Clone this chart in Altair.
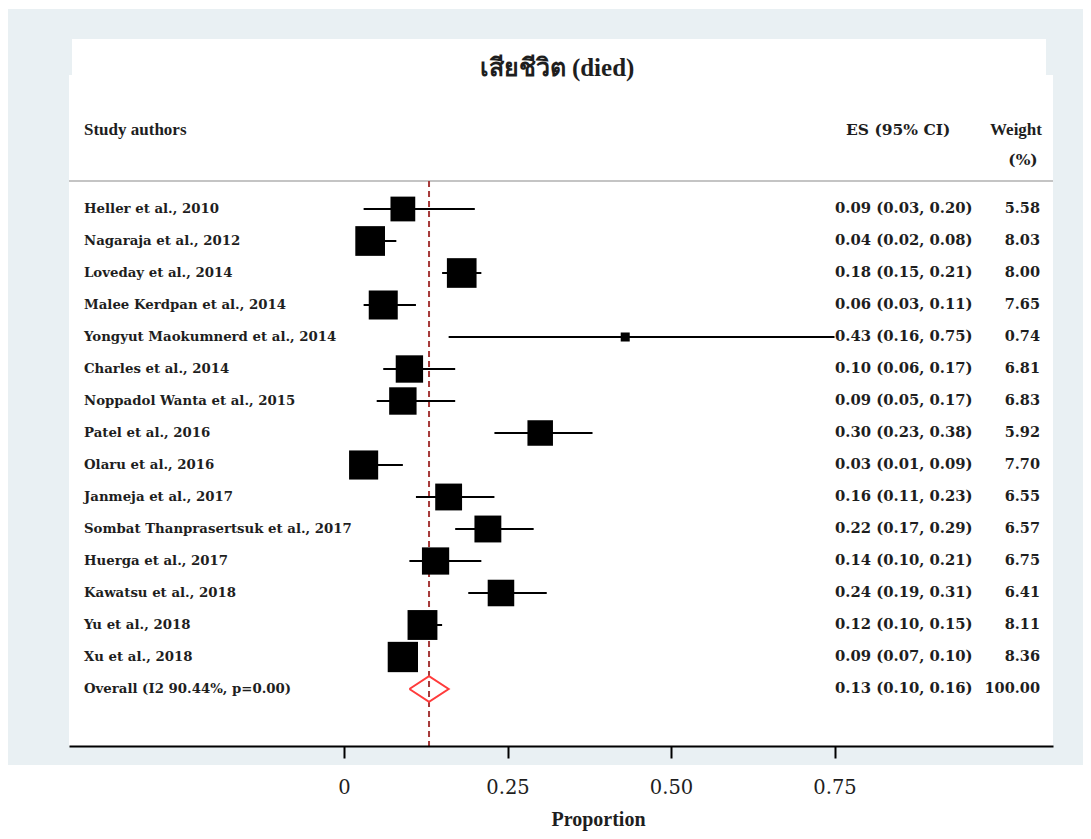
import altair as alt
import pandas as pd

studies = ["Heller et al., 2010", "Nagaraja et al., 2012", "Loveday et al., 2014",
           "Malee Kerdpan et al., 2014", "Yongyut Maokumnerd et al., 2014", "Charles et al., 2014",
           "Noppadol Wanta et al., 2015", "Patel et al., 2016", "Olaru et al., 2016",
           "Janmeja et al., 2017", "Sombat Thanprasertsuk et al., 2017", "Huerga et al., 2017",
           "Kawatsu et al., 2018", "Yu et al., 2018", "Xu et al., 2018"]
es = [0.09, 0.04, 0.18, 0.06, 0.43, 0.10, 0.09, 0.30, 0.03, 0.16, 0.22, 0.14, 0.24, 0.12, 0.09]
lo = [0.03, 0.02, 0.15, 0.03, 0.16, 0.06, 0.05, 0.23, 0.01, 0.11, 0.17, 0.10, 0.19, 0.10, 0.07]
hi = [0.20, 0.08, 0.21, 0.11, 0.75, 0.17, 0.17, 0.38, 0.09, 0.23, 0.29, 0.21, 0.31, 0.15, 0.10]
weight = [5.58, 8.03, 8.00, 7.65, 0.74, 6.81, 6.83, 5.92, 7.70, 6.55, 6.57, 6.75, 6.41, 8.11, 8.36]

overall_label = "Overall (I2 90.44%, p=0.00)"
overall_es = 0.13
overall_lo = 0.10
overall_hi = 0.16
overall_weight = 100.00

x_ticks = [0, 0.25, 0.50, 0.75]

title_text = "เสียชีวิต (died)"
x_title = "Proportion"

n = len(studies)
df = pd.DataFrame({
    "study": studies + [overall_label],
    "row": list(range(n + 1)),
    "es": es + [overall_es],
    "lo": lo + [overall_lo],
    "hi": hi + [overall_hi],
    "weight": weight + [overall_weight],
})
df["ci_text"] = df.apply(lambda r: f"{r.es:.2f} ({r.lo:.2f}, {r.hi:.2f})", axis=1)
df["w_text"] = df["weight"].map(lambda v: f"{v:.2f}")
studies_df = df.iloc[:n]

diamond = pd.DataFrame({
    "x": [overall_lo, overall_es, overall_hi, overall_es, overall_lo],
    "y": [n, n - 0.4, n, n + 0.4, n],
    "o": [0, 1, 2, 3, 4],
})

W, H = 984, 671
BG = "#e9f0f3"
LABEL_FONT = "DejaVu Serif"
HEAD_FONT = "Liberation Serif"
TXT = "#1e1e1e"

xscale = alt.Scale(domain=[-0.4205, 1.0841], nice=False, zero=False)
yscale = alt.Scale(domain=[-4.1875, 16.78125], nice=False, zero=False, reverse=True)
label_expr = "datum.value == 0 ? '0' : format(datum.value, '.2f')"
xaxis = alt.Axis(values=x_ticks, labelExpr=label_expr, grid=False, zindex=2,
                 domainColor="black", domainWidth=2, tickColor="black", tickWidth=2,
                 tickSize=12, labelFont=LABEL_FONT, labelFontSize=19.5, labelColor=TXT,
                 labelPadding=20, title=x_title, titleFont=HEAD_FONT, titleFontSize=20,
                 titleFontWeight="bold", titleColor=TXT, titleX=529, titleY=63)

one = pd.DataFrame({"a": [0]})

bg = alt.Chart(one).mark_rect(color=BG).encode(
    x=alt.value(-61), x2=alt.value(1030), y=alt.value(-66), y2=alt.value(690))
title_box = alt.Chart(one).mark_rect(color="white").encode(
    x=alt.value(3), x2=alt.value(977), y=alt.value(-36), y2=alt.value(0))
main_box = alt.Chart(one).mark_rect(color="white").encode(
    x=alt.value(0), x2=alt.value(W), y=alt.value(0), y2=alt.value(H))
head_line = alt.Chart(one).mark_rule(color="#c4c4c4", strokeWidth=2).encode(
    x=alt.value(0), x2=alt.value(W), y=alt.value(106))

ref = alt.Chart(pd.DataFrame({"v": [overall_es]})).mark_rule(
    color="#a63a3a", strokeWidth=2, strokeDash=[6, 4]).encode(
    x=alt.X("v:Q", scale=xscale, axis=xaxis), y=alt.value(106), y2=alt.value(H))

ci = alt.Chart(studies_df).mark_rule(color="black", strokeWidth=2).encode(
    x=alt.X("lo:Q", scale=xscale, axis=xaxis), x2="hi:Q",
    y=alt.Y("row:Q", scale=yscale, axis=None))

sq = alt.Chart(studies_df).mark_square(color="black", filled=True, opacity=1).encode(
    x=alt.X("es:Q", scale=xscale, axis=xaxis),
    y=alt.Y("row:Q", scale=yscale, axis=None),
    size=alt.Size("weight:Q", scale=alt.Scale(domain=[0, 10], range=[0, 1100]), legend=None))

dia = alt.Chart(diamond).mark_line(color="#ff3b3b", strokeWidth=2).encode(
    x=alt.X("x:Q", scale=xscale, axis=xaxis),
    y=alt.Y("y:Q", scale=yscale, axis=None), order="o:O")

labels = alt.Chart(df).mark_text(align="left", baseline="middle", font=LABEL_FONT,
                                 fontSize=13.3, fontWeight="bold", color=TXT).encode(
    x=alt.value(15), y=alt.Y("row:Q", scale=yscale, axis=None), text="study:N")
ci_txt = alt.Chart(df).mark_text(align="left", baseline="middle", font=LABEL_FONT,
                                 fontSize=14.8, fontWeight="bold", color=TXT).encode(
    x=alt.value(766), y=alt.Y("row:Q", scale=yscale, axis=None), text="ci_text:N")
w_txt = alt.Chart(df).mark_text(align="right", baseline="middle", font=LABEL_FONT,
                                fontSize=14.5, fontWeight="bold", color=TXT).encode(
    x=alt.value(971), y=alt.Y("row:Q", scale=yscale, axis=None), text="w_text:N")


def head(txt, x, y, align="left", size=17, font=HEAD_FONT):
    return alt.Chart(pd.DataFrame({"t": [txt]})).mark_text(
        align=align, baseline="middle", font=font, fontSize=size,
        fontWeight="bold", color=TXT).encode(x=alt.value(x), y=alt.value(y), text="t:N")


h1 = head("Study authors", 15, 55)
h2 = head("ES (95% CI)", 777, 55, size=15.5, font=LABEL_FONT)
h3 = head("Weight", 947, 55, align="center")
h4 = head("(%)", 954, 85, align="center", size=15.5, font=LABEL_FONT)
ttl = head(title_text, 488, -7, align="center", size=25)

chart = alt.layer(bg, title_box, main_box, head_line, ref, ci, sq, dia,
                  labels, ci_txt, w_txt, h1, h2, h3, h4, ttl).properties(
    width=W, height=H,
    padding={"left": 61, "top": 67, "right": 30, "bottom": 85},
    autosize=alt.AutoSizeParams(type="none"),
    background="white",
).configure_view(stroke=None)

chart.save("out.html", embed_options={"renderer": "svg", "actions": False})
